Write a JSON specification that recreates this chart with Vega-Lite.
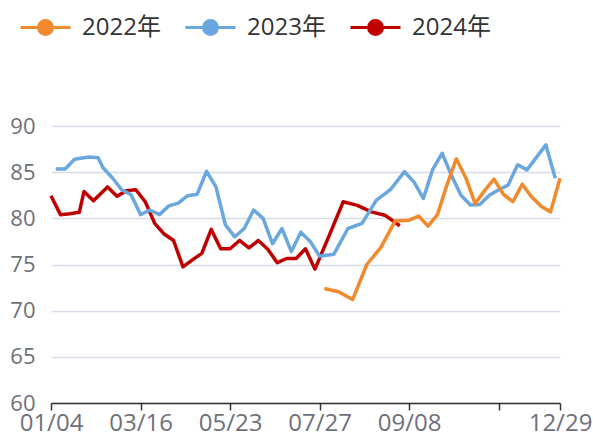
{
  "$schema": "https://vega.github.io/schema/vega-lite/v6.json",
  "width": 509,
  "height": 277,
  "autosize": "none",
  "padding": {"left": 51, "top": 126, "right": 33, "bottom": 36},
  "config": {"view": {"stroke": null}, "font": "'Open Sans', 'Noto Sans CJK SC'"},
  "data": {"values": [
    {"d":"01/04","y":"2024年","v":82.45},{"d":"01/11","y":"2024年","v":80.4},{"d":"01/18","y":"2024年","v":80.5},{"d":"01/25","y":"2024年","v":80.65},
    {"d":"02/01","y":"2024年","v":82.9},{"d":"02/08","y":"2024年","v":81.9},{"d":"02/22","y":"2024年","v":83.4},{"d":"02/29","y":"2024年","v":82.4},
    {"d":"03/07","y":"2024年","v":83.0},{"d":"03/14","y":"2024年","v":83.1},{"d":"03/21","y":"2024年","v":81.8},{"d":"03/28","y":"2024年","v":79.45},
    {"d":"04/04","y":"2024年","v":78.3},{"d":"04/11","y":"2024年","v":77.6},{"d":"04/18","y":"2024年","v":74.75},{"d":"04/25","y":"2024年","v":75.5},
    {"d":"05/02","y":"2024年","v":76.2},{"d":"05/09","y":"2024年","v":78.8},{"d":"05/16","y":"2024年","v":76.7},{"d":"05/23","y":"2024年","v":76.7},
    {"d":"05/30","y":"2024年","v":77.6},{"d":"06/06","y":"2024年","v":76.8},{"d":"06/13","y":"2024年","v":77.6},{"d":"06/20","y":"2024年","v":76.65},
    {"d":"06/27","y":"2024年","v":75.2},{"d":"07/04","y":"2024年","v":75.65},{"d":"07/11","y":"2024年","v":75.65},{"d":"07/18","y":"2024年","v":76.7},
    {"d":"07/25","y":"2024年","v":74.5},{"d":"08/01","y":"2024年","v":78.1},{"d":"08/08","y":"2024年","v":81.8},{"d":"08/15","y":"2024年","v":81.4},
    {"d":"08/22","y":"2024年","v":80.7},{"d":"08/29","y":"2024年","v":80.3},{"d":"09/05","y":"2024年","v":79.2},

    {"d":"01/05","y":"2023年","v":85.35},{"d":"01/12","y":"2023年","v":85.35},{"d":"01/19","y":"2023年","v":86.4},{"d":"02/02","y":"2023年","v":86.65},
    {"d":"02/09","y":"2023年","v":86.55},{"d":"02/16","y":"2023年","v":85.5},{"d":"02/23","y":"2023年","v":84.4},{"d":"03/02","y":"2023年","v":83.1},
    {"d":"03/09","y":"2023年","v":82.55},{"d":"03/16","y":"2023年","v":80.4},{"d":"03/23","y":"2023年","v":80.9},{"d":"03/30","y":"2023年","v":80.4},
    {"d":"04/06","y":"2023年","v":81.35},{"d":"04/13","y":"2023年","v":81.65},{"d":"04/20","y":"2023年","v":82.45},{"d":"04/27","y":"2023年","v":82.6},
    {"d":"05/04","y":"2023年","v":85.1},{"d":"05/11","y":"2023年","v":83.4},{"d":"05/18","y":"2023年","v":79.3},{"d":"05/25","y":"2023年","v":78.0},
    {"d":"06/01","y":"2023年","v":78.9},{"d":"06/08","y":"2023年","v":80.9},{"d":"06/15","y":"2023年","v":80.0},{"d":"06/22","y":"2023年","v":77.25},
    {"d":"06/29","y":"2023年","v":78.9},{"d":"07/06","y":"2023年","v":76.4},{"d":"07/13","y":"2023年","v":78.5},{"d":"07/20","y":"2023年","v":77.5},
    {"d":"07/27","y":"2023年","v":75.9},{"d":"08/03","y":"2023年","v":76.1},{"d":"08/10","y":"2023年","v":78.9},{"d":"08/17","y":"2023年","v":79.45},
    {"d":"08/24","y":"2023年","v":81.95},{"d":"08/31","y":"2023年","v":83.1},{"d":"09/07","y":"2023年","v":85.05},{"d":"09/14","y":"2023年","v":83.95},
    {"d":"09/21","y":"2023年","v":82.15},{"d":"09/28","y":"2023年","v":85.3},{"d":"10/05","y":"2023年","v":87.05},{"d":"10/12","y":"2023年","v":84.6},
    {"d":"10/19","y":"2023年","v":82.5},{"d":"10/26","y":"2023年","v":81.45},{"d":"11/02","y":"2023年","v":81.5},{"d":"11/09","y":"2023年","v":82.5},
    {"d":"11/16","y":"2023年","v":83.1},{"d":"11/23","y":"2023年","v":83.6},{"d":"11/30","y":"2023年","v":85.8},{"d":"12/07","y":"2023年","v":85.25},
    {"d":"12/14","y":"2023年","v":86.6},{"d":"12/21","y":"2023年","v":87.95},{"d":"12/28","y":"2023年","v":84.35},

    {"d":"07/28","y":"2022年","v":72.4},{"d":"08/04","y":"2022年","v":72.05},{"d":"08/11","y":"2022年","v":71.2},{"d":"08/18","y":"2022年","v":75.0},
    {"d":"08/25","y":"2022年","v":76.85},{"d":"09/01","y":"2022年","v":79.7},{"d":"09/08","y":"2022年","v":79.8},{"d":"09/15","y":"2022年","v":80.25},
    {"d":"09/22","y":"2022年","v":79.15},{"d":"09/29","y":"2022年","v":80.4},{"d":"10/06","y":"2022年","v":83.6},{"d":"10/13","y":"2022年","v":86.45},
    {"d":"10/20","y":"2022年","v":84.4},{"d":"10/27","y":"2022年","v":81.6},{"d":"11/03","y":"2022年","v":83.0},{"d":"11/10","y":"2022年","v":84.25},
    {"d":"11/17","y":"2022年","v":82.6},{"d":"11/24","y":"2022年","v":81.8},{"d":"12/01","y":"2022年","v":83.7},{"d":"12/08","y":"2022年","v":82.3},
    {"d":"12/15","y":"2022年","v":81.3},{"d":"12/22","y":"2022年","v":80.7},{"d":"12/29","y":"2022年","v":84.35}
  ]},
  "mark": {"type": "line", "strokeWidth": 3.5, "strokeJoin": "round"},
  "encoding": {
    "x": {
      "field": "d", "type": "ordinal",
      "scale": {"type": "point", "padding": 0},
      "axis": {
        "title": null,
        "values": ["01/04","03/16","05/23","07/27","09/08","11/16","12/29"],
        "labelExpr": "datum.value == '11/16' ? '' : datum.value",
        "labelAngle": 0, "labelFontSize": 24, "labelColor": "#6E7079",
        "labelOverlap": false, "labelFlush": false, "labelPadding": 1,
        "domainColor": "#333333", "domainWidth": 1.5,
        "tickColor": "#333333", "tickWidth": 1.5, "tickSize": 7,
        "grid": false
      }
    },
    "y": {
      "field": "v", "type": "quantitative",
      "scale": {"domain": [60, 90], "nice": false, "zero": false},
      "axis": {
        "title": null, "values": [60,65,70,75,80,85,90],
        "domain": false, "ticks": false, "labelPadding": 16,
        "labelFontSize": 22, "labelColor": "#6E7079",
        "gridColor": "#D8DCE8", "gridWidth": 1.5
      }
    },
    "color": {
      "field": "y", "type": "nominal",
      "scale": {"range": ["#F08A2C", "#6AA7DE", "#C00000"]},
      "legend": {
        "orient": "none", "legendX": -32, "legendY": -125,
        "direction": "horizontal", "title": null, "gridAlign": "none",
        "labelFontSize": 24, "labelColor": "#333333",
        "symbolType": "M-1,0H1M-0.28,0A0.28,0.28,0,1,1,0.28,0A0.28,0.28,0,1,1,-0.28,0Z",
        "symbolSize": 2500, "symbolStrokeWidth": 3,
        "labelOffset": 10, "columnPadding": 18,
        "encode": {"symbols": {"update": {"fill": {"scale": "color", "field": "value"}, "fillOpacity": {"value": 1}}}}
      }
    }
  }
}
